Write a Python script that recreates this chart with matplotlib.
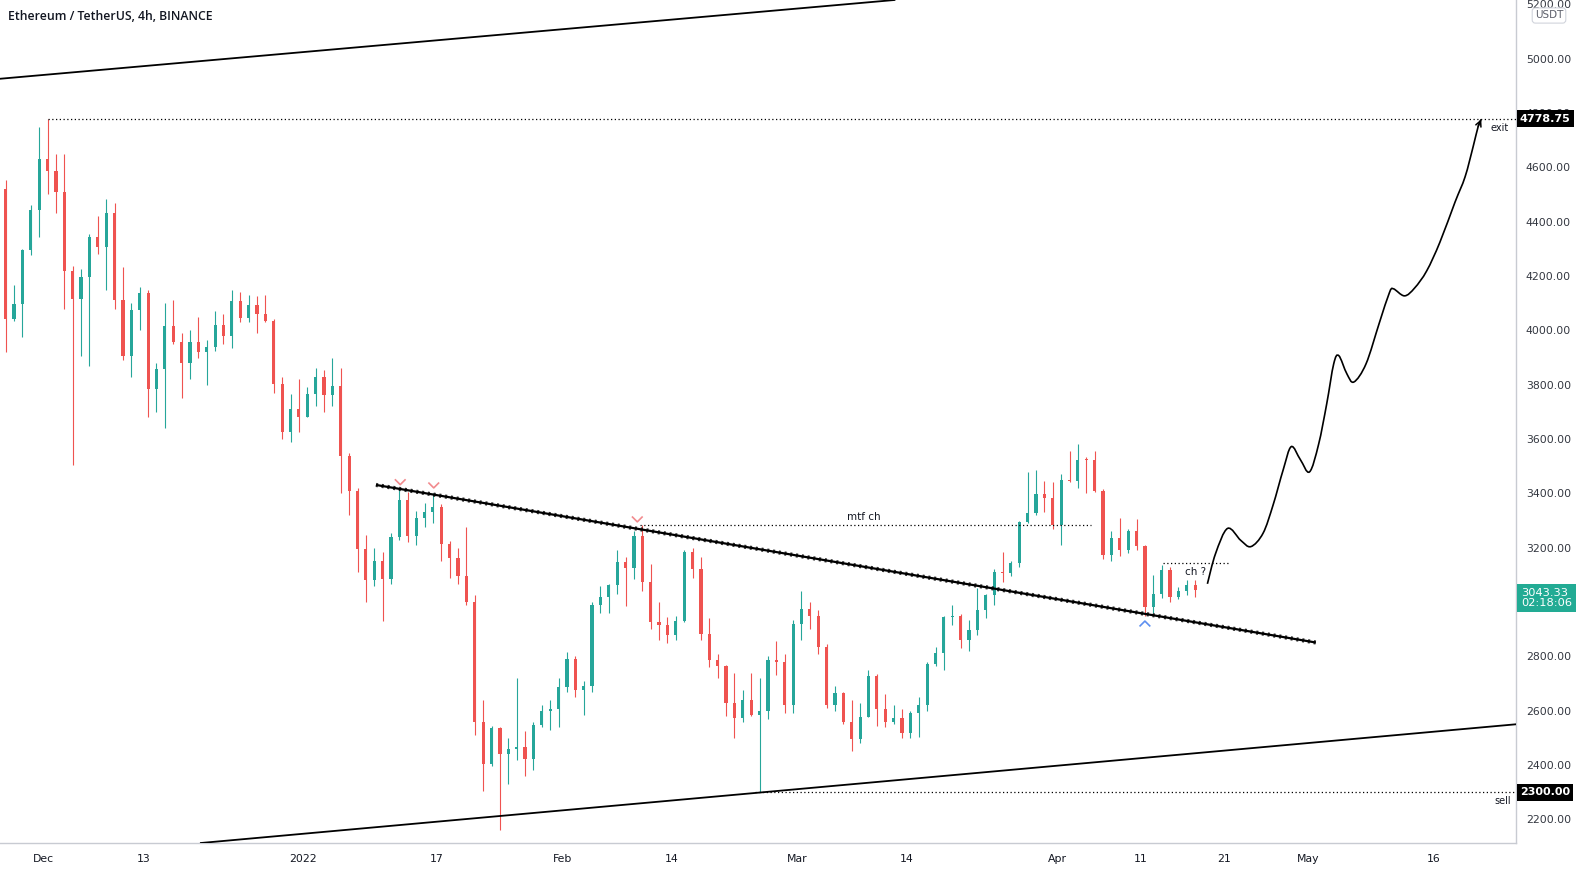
import numpy as np
import pandas as pd
import matplotlib
matplotlib.use('Agg')
import matplotlib.pyplot as plt
from matplotlib.path import Path
from matplotlib.patches import PathPatch
from matplotlib.transforms import blended_transform_factory

# ETH/USDT daily candles 26 Nov 2021 -> 17 Apr 2022 (open = previous close)
start_date = '2021-11-26'
first_open = 4522
closes = [4043, 4096, 4294, 4444, 4631,
          4586, 4511, 4220, 4117, 4195, 4345, 4308, 4433, 4110, 3907, 4074, 4138, 3783, 3856, 4016, 3956,
          3878, 3956, 3920, 3937, 4018, 3978, 4108, 4044, 4094, 4062, 4035, 3801, 3627, 3711, 3682,
          3765, 3828, 3762, 3794, 3538, 3410, 3196, 3081, 3152, 3083, 3239, 3374, 3244, 3308, 3330, 3350,
          3212, 3162, 3097, 3000, 2560, 2404, 2538, 2440, 2458, 2467, 2421, 2547, 2598, 2605, 2688,
          2790, 2677, 2690, 2989, 3018, 3062, 3146, 3125, 3242, 3072, 2928, 2914, 2880, 2930, 3185, 3121,
          2884, 2785, 2764, 2629, 2574, 2641, 2583, 2599, 2785, 2778, 2620, 2919,
          2973, 2949, 2836, 2621, 2666, 2557, 2497, 2577, 2729, 2608, 2559, 2574, 2517, 2591, 2620, 2772,
          2814, 2944, 2947, 2860, 2896, 2972, 3027, 3110, 3106, 3145, 3295, 3329, 3399, 3384, 3282,
          3449, 3444, 3522, 3521, 3410, 3172, 3234, 3190, 3262, 3208, 2981, 3030, 3118, 3018, 3040, 3061,
          3043.33]
highs = [4552, 4167, 4299, 4460, 4750,
         4778.75, 4649, 4649, 4238, 4227, 4355, 4420, 4485, 4470, 4235, 4100, 4160, 4150, 3880, 4100, 4110,
         3990, 4000, 4050, 3965, 4070, 4060, 4150, 4140, 4130, 4125, 4130, 4040, 3830, 3765, 3820,
         3790, 3860, 3855, 3900, 3860, 3550, 3420, 3245, 3200, 3185, 3255, 3415, 3405, 3335, 3365, 3400,
         3360, 3225, 3200, 3275, 3025, 2640, 2545, 2540, 2500, 2720, 2525, 2560, 2620, 2640, 2720,
         2815, 2800, 2710, 3000, 3060, 3065, 3190, 3165, 3260, 3282, 3140, 3000, 2945, 2950, 3190, 3200,
         3165, 2940, 2810, 2770, 2740, 2675, 2740, 2720, 2800, 2855, 2810, 2935,
         3040, 3000, 2970, 2845, 2690, 2670, 2640, 2630, 2750, 2735, 2660, 2620, 2605, 2600, 2650, 2780,
         2835, 2950, 2990, 2955, 2935, 3050, 3030, 3120, 3185, 3150, 3300, 3480, 3485, 3445, 3440,
         3470, 3555, 3580, 3535, 3555, 3415, 3260, 3310, 3270, 3305, 3210, 3100, 3135, 3130, 3055, 3080,
         3080]
lows = [3919, 4036, 3977, 4279, 4344,
        4502, 4431, 4080, 3503, 3906, 3870, 4280, 4150, 4080, 3890, 3830, 4000, 3680, 3700, 3640, 3950,
        3750, 3820, 3900, 3800, 3925, 3950, 3935, 4030, 4030, 3990, 4030, 3770, 3600, 3590, 3625,
        3680, 3720, 3700, 3720, 3400, 3320, 3110, 3000, 3060, 2930, 3065, 3230, 3220, 3210, 3275, 3290,
        3150, 3090, 3065, 2990, 2510, 2305, 2395, 2160, 2330, 2420, 2360, 2380, 2540, 2530, 2540,
        2670, 2650, 2585, 2670, 2960, 2960, 3030, 2985, 3085, 3040, 2900, 2860, 2850, 2860, 2925, 3090,
        2860, 2760, 2720, 2580, 2500, 2560, 2580, 2300, 2570, 2730, 2590, 2590,
        2860, 2900, 2810, 2610, 2600, 2550, 2450, 2480, 2575, 2545, 2540, 2550, 2500, 2500, 2505, 2600,
        2765, 2750, 2915, 2830, 2820, 2880, 2940, 2990, 3075, 3095, 3130, 3290, 3320, 3330, 3270,
        3210, 3440, 3420, 3400, 3405, 3160, 3150, 3170, 3180, 3190, 2950, 2960, 3015, 3000, 3010, 3025,
        3020]

# time axis
axis_origin = '2021-12-01'
tick_dates = ['2021-12-01', '2021-12-13', '2022-01-01', '2022-01-17', '2022-02-01', '2022-02-14',
              '2022-03-01', '2022-03-14', '2022-04-01', '2022-04-11', '2022-04-21', '2022-05-01',
              '2022-05-16']
tick_labels = ['Dec', '13', '2022', '17', 'Feb', '14', 'Mar', '14', 'Apr', '11', '21', 'May', '16']
# 3000.00 sits under the live price label, so it is not listed
price_ticks = [2200, 2400, 2600, 2800, 3200, 3400, 3600, 3800, 4000, 4200, 4400, 4600,
               4800, 5000, 5200]

# drawings, (days since 1 Dec 2021, price)
top_line = [(-5.2, 4926), (101.6, 5216)]
bottom_line = [(18.8, 2113), (175.8, 2550)]
trend_line = [(39.7, 3431), (151.9, 2851)]
exit_level = 4778.75
sell_level = 2300.0
mtf_level = 3283
ch_level = 3143
last_price = 3043.33
countdown = '02:18:06'
proj_days = [138.96, 139.93, 141.37, 142.94, 144.15, 145.60, 146.80, 148.01, 148.97, 150.06,
             151.15, 152.23, 153.20, 154.04, 154.64, 155.61, 156.45, 157.90, 159.47, 160.68,
             161.16, 162.49, 163.70, 165.14, 166.71, 168.52, 169.72, 170.69, 171.29, 171.65]
proj_prices = [3067, 3178, 3271, 3227, 3204, 3253, 3357, 3487, 3572, 3524,
               3479, 3580, 3729, 3877, 3907, 3840, 3810, 3877, 4026, 4138,
               4153, 4127, 4156, 4219, 4324, 4472, 4565, 4677, 4751, 4777]
tops_days = [42.6, 46.6, 70.9]
tops_prices = [3440, 3428, 3303]
bottom_mark = (131.5, 2922)

UP, DOWN = '#26a69a', '#ef5350'
TXT = '#131722'

t0 = pd.Timestamp(axis_origin)
dates = pd.date_range(start_date, periods=len(closes), freq='D')
x = np.asarray((dates - t0).days, dtype=float) + 0.5
c = np.array(closes, dtype=float)
o = np.concatenate([[first_open], c[:-1]])
h = np.array(highs, dtype=float)
l = np.array(lows, dtype=float)
col = np.where(c >= o, UP, DOWN)

W, H = 1584, 871
fig = plt.figure(figsize=(W / 100, H / 100), dpi=100)
fig.patch.set_facecolor('white')
ax = fig.add_axes([0, (H - 843) / H, 1516 / W, 843 / H])
ax.set_xlim(-5.18, 175.8)
ax.set_ylim(2113, 5216)

# candles
ax.vlines(x, l, h, colors=col, linewidth=0.8, zorder=2)
body = np.where(np.abs(c - o) < 4, 4, c - o)
ax.bar(x, body, bottom=o, width=0.38, color=col, linewidth=0, zorder=3)

# channel lines
ax.axline(top_line[0], top_line[1], color='black', lw=1.3, zorder=4)
ax.axline(bottom_line[0], bottom_line[1], color='black', lw=1.3, zorder=4)

# descending trendline (serrated look)
tx, ty = zip(*trend_line)
ax.plot(tx, ty, color='black', lw=1.6, zorder=4, solid_capstyle='butt')
ax.plot(tx, ty, color='black', lw=3.0, ls=(0, (0.5, 0.9)), zorder=4, alpha=0.8)

# horizontal levels
xmax = ax.get_xlim()[1]
ax.hlines(exit_level, 0.5, xmax, colors='black', lw=0.9, ls=(0, (1, 2)), zorder=4)
ax.hlines(sell_level, 84.9, xmax, colors='black', lw=0.9, ls=(0, (1, 2)), zorder=4)
ax.hlines(mtf_level, 71.2, 125.1, colors='black', lw=0.9, ls=(0, (1, 2)), zorder=4)
ax.hlines(ch_level, 133.7, 141.7, colors='black', lw=0.9, ls=(0, (1, 2)), zorder=4)

# projection path: smooth Bezier through the read points
pts = np.column_stack([proj_days, proj_prices])
verts, codes = [tuple(pts[0])], [Path.MOVETO]
for i in range(len(pts) - 1):
    p0 = pts[max(i - 1, 0)]
    p1, p2 = pts[i], pts[i + 1]
    p3 = pts[min(i + 2, len(pts) - 1)]
    verts += [tuple(p1 + (p2 - p0) / 6), tuple(p2 - (p3 - p1) / 6), tuple(p2)]
    codes += [Path.CURVE4] * 3
ax.add_patch(PathPatch(Path(verts, codes), fc='none', ec='black', lw=1.2, zorder=5))
ax.annotate('', xy=(proj_days[-1], proj_prices[-1]), xytext=(proj_days[-2], proj_prices[-2]),
            arrowprops=dict(arrowstyle='->', color='black', lw=1.1, mutation_scale=10,
                            shrinkA=0, shrinkB=0), zorder=5)

# chevrons
chev_down = Path([(-1, 0.6), (0, -0.4), (1, 0.6)], [Path.MOVETO, Path.LINETO, Path.LINETO])
chev_up = Path([(-1, -0.6), (0, 0.4), (1, -0.6)], [Path.MOVETO, Path.LINETO, Path.LINETO])
ax.scatter(tops_days, tops_prices, marker=chev_down, s=60, facecolors='none',
           edgecolors='#f28b8e', linewidths=1.2, zorder=6)
ax.scatter([bottom_mark[0]], [bottom_mark[1]], marker=chev_up, s=60, facecolors='none',
           edgecolors='#5d8ff0', linewidths=1.2, zorder=6)

# notes
ax.text(98.0, 3314, 'mtf ch', fontsize=7.5, color=TXT, ha='center', va='center', zorder=6)
ax.text(137.6, 3111, 'ch ?', fontsize=7.5, color=TXT, ha='center', va='center', zorder=6)
ax.text(173.9, 4746, 'exit', fontsize=7, color=TXT, ha='center', va='center', zorder=6)
ax.text(174.2, 2269, 'sell', fontsize=7, color=TXT, ha='center', va='center', zorder=6)

# axes look
for s in ['top', 'left']:
    ax.spines[s].set_visible(False)
for s in ['right', 'bottom']:
    ax.spines[s].set_color('#c8cbd2')
    ax.spines[s].set_linewidth(1)
ax.yaxis.tick_right()
ax.set_yticks(price_ticks)
ax.set_yticklabels(['%.2f' % p for p in price_ticks])
ax.tick_params(axis='y', length=0, pad=7, labelsize=7.8, labelcolor='#333740')
tick_x = [(pd.Timestamp(d) - t0).days for d in tick_dates]
ax.set_xticks(tick_x)
ax.set_xticklabels(tick_labels)
ax.tick_params(axis='x', length=0, pad=8, labelsize=7.8, labelcolor=TXT)

# price labels on the scale
yx = blended_transform_factory(ax.transAxes, ax.transData)
ax.text(1.0 + 4 / 1516, exit_level, '%.2f' % exit_level, transform=yx, ha='left', va='center',
        fontsize=8, fontweight='bold', color='white', clip_on=False, zorder=10,
        bbox=dict(boxstyle='square,pad=0.3', fc='black', ec='none'))
ax.text(1.0 + 4 / 1516, sell_level, '%.2f' % sell_level, transform=yx, ha='left', va='center',
        fontsize=8, fontweight='bold', color='white', clip_on=False, zorder=10,
        bbox=dict(boxstyle='square,pad=0.3', fc='black', ec='none'))
ax.text(1.0 + 5 / 1516, 3015, '%.2f\n%s' % (last_price, countdown), transform=yx, ha='left',
        va='center', fontsize=8.2, color='white', linespacing=1.1, clip_on=False, zorder=10,
        bbox=dict(boxstyle='square,pad=0.35', fc='#22ab94', ec='none'))
fig.text(1549 / W, 1 - 15.5 / H, 'USDT', fontsize=7.5, color='#5d606b', ha='center', va='center',
         bbox=dict(boxstyle='round,pad=0.25,rounding_size=0.3', fc='white', ec='#d1d4dc', lw=0.8),
         zorder=10)

fig.text(8 / W, 1 - 16 / H, 'Ethereum / TetherUS, 4h, BINANCE', fontsize=8.8, color=TXT,
         ha='left', va='center', family=['Open Sans', 'DejaVu Sans'], fontweight='semibold')

fig.savefig('out.png', dpi=100, facecolor='white')
